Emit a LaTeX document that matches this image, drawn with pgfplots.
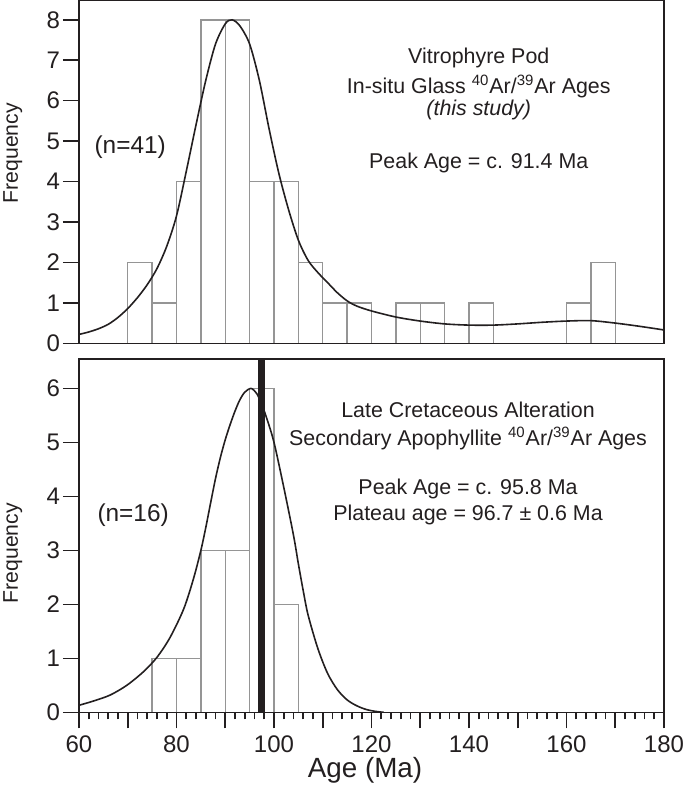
\documentclass[border=0pt]{standalone}
\usepackage{fontspec}
\setmainfont{Liberation Sans}
\usepackage{pgfplots}
\pgfplotsset{compat=1.18}
\definecolor{ink}{HTML}{231F20}
\definecolor{bargray}{HTML}{959595}
\pgfplotsset{
  hist/.style={
    scale only axis, width=292.5pt, xmin=60, xmax=180, ymin=0,
    axis on top,
    axis line style={ink, line width=0.8pt},
    tick style={ink, line width=0.8pt},
    tick align=outside,
    ytick pos=left, xtick pos=bottom,
    major tick length=8pt, minor tick length=3.5pt,
    ticklabel style={font=\fontsize{12}{14}\selectfont, text=ink},
    yticklabel style={xshift=2pt},
    /pgf/number format/assume math mode=true,
    ylabel={Frequency},
  },
}
\tikzset{txt/.style={font=\fontsize{10.7}{12}\selectfont, text=ink, anchor=center},
         ntxt/.style={font=\fontsize{12.2}{14}\selectfont, text=ink, anchor=center},
         flab/.style={font=\fontsize{10.6}{12}\selectfont, text=ink, rotate=90, anchor=center}}
\begin{document}
\begin{tikzpicture}
\useasboundingbox (-39.5pt,171.65pt) rectangle (303pt,-222.35pt);
% ---------- top panel ----------
\begin{axis}[hist, at={(0pt,0pt)}, anchor=origin, height=171.65pt, ymax=8.49,
  ytick={0,1,...,8}, xtick=\empty,
  every axis y label/.style={at={(axis description cs:-0.113,0.554)}, flab}]
\addplot[ybar interval, fill=white, draw=bargray, line width=0.7pt] coordinates {
 (70,2) (75,1) (80,4) (85,8) (90,8) (95,4) (100,4) (105,2) (110,1) (115,1)
 (120,0) (125,1) (130,1) (135,0) (140,1) (145,0) (150,0) (155,0) (160,1) (165,2) (170,0)};
\addplot[ink, line width=0.8pt, smooth] coordinates {
 (60,0.22) (62,0.28) (64,0.36) (66,0.47) (68,0.64) (70,0.86) (72,1.13) (74,1.45)
 (76,1.85) (78,2.4) (80,3.15) (82,4.25) (84,5.4) (86,6.5) (88,7.4) (90,7.9) (91.4,8.0)
 (93,7.85) (95,7.4) (97,6.5) (99,5.3) (101,4.2) (103,3.3) (105,2.55) (107,2.05)
 (109,1.75) (111,1.5) (113,1.25) (115,1.05) (117,0.92) (120,0.8) (125,0.65) (130,0.55)
 (135,0.48) (140,0.45) (145,0.45) (150,0.48) (155,0.52) (160,0.55) (165,0.56)
 (170,0.5) (175,0.42) (180,0.33)};
\node[txt] at (axis cs:142,7.06) {Vitrophyre Pod};
\node[txt] at (axis cs:142,6.36) {In-situ Glass \textsuperscript{40}Ar/\textsuperscript{39}Ar Ages};
\node[txt] at (axis cs:142,5.77) {\itshape (this study)};
\node[txt] at (axis cs:142,4.46) {Peak Age = c. 91.4 Ma};
\node[ntxt] at (axis cs:70.5,4.86) {(n=41)};
\end{axis}
% ---------- bottom panel ----------
\begin{axis}[hist, at={(0pt,-184.5pt)}, anchor=origin, height=176.5pt, ymax=6.54,
  ytick={0,1,...,6},
  xtick={60,70,...,180}, xticklabels={60,,80,,100,,120,,140,,160,,180},
  minor x tick num=4,
  every axis y label/.style={at={(axis description cs:-0.113,0.451)}, flab},
  xlabel={Age (Ma)},
  every axis x label/.style={at={(axis description cs:0.489,-0.1635)}, anchor=center,
     font=\fontsize{13.9}{16}\selectfont, text=ink}]
\addplot[ybar interval, fill=white, draw=bargray, line width=0.7pt] coordinates {
 (75,1) (80,1) (85,3) (90,3) (95,6) (100,2) (105,0)};
\addplot[ink, line width=0.8pt, smooth] coordinates {
 (60,0.13) (63,0.21) (66.4,0.32) (69.8,0.5) (73.2,0.75) (76,1.02) (78.7,1.39)
 (81.5,1.92) (83.5,2.48) (85,3.0) (86,3.42) (87,3.88) (88,4.33) (89,4.72) (90,5.05)
 (91,5.33) (92,5.58) (93,5.79) (94,5.93) (95.3,6.0) (96.5,5.9) (97.5,5.7) (98.5,5.45)
 (100,5.0) (102,4.17) (104,3.28) (105,2.75) (106,2.25) (107,1.8) (109,1.18) (111,0.72)
 (113,0.42) (115,0.23) (117,0.12) (119,0.05) (121,0.015) (122.5,0)};
\addplot[ink, line width=3.2pt] coordinates {(97.4,0) (97.4,6.54)};
\node[txt] at (axis cs:139.8,5.6) {Late Cretaceous Alteration};
\node[txt] at (axis cs:139.8,5.08) {Secondary Apophyllite \textsuperscript{40}Ar/\textsuperscript{39}Ar Ages};
\node[txt] at (axis cs:139.8,4.13) {Peak Age = c. 95.8 Ma};
\node[txt] at (axis cs:139.8,3.65) {Plateau age = 96.7 ± 0.6 Ma};
\node[ntxt] at (axis cs:71.1,3.65) {(n=16)};
\end{axis}
\end{tikzpicture}
\end{document}
